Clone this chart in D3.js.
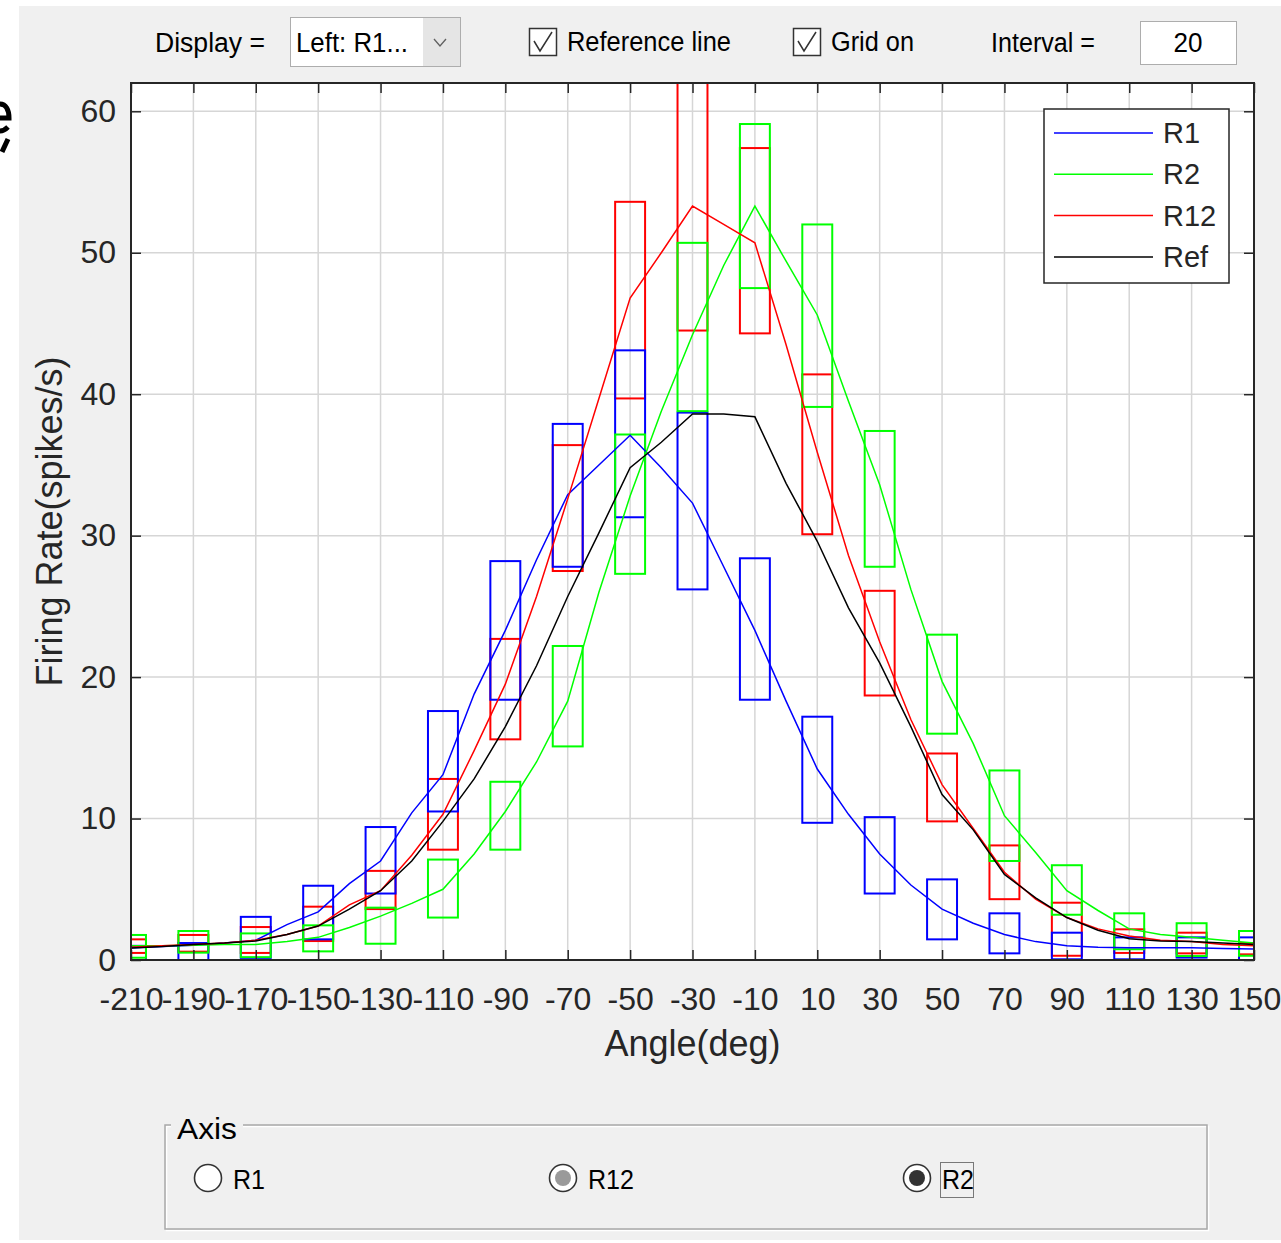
<!DOCTYPE html>
<html>
<head>
<meta charset="utf-8">
<script src="https://cdn.jsdelivr.net/npm/d3@7"></script>
<style>
    html, body { margin: 0; padding: 0; background: #fff; }
    svg text { font-family: "Liberation Sans", Arial, sans-serif; }
</style>
</head>
<body>
<div id="chart"></div>
<script>
// tick labels
var xTicks = [-210, -190, -170, -150, -130, -110, -90, -70, -50, -30, -10, 10, 30, 50, 70, 90, 110, 130, 150];
var yTicks = [0, 10, 20, 30, 40, 50, 60];

// box positions (deg) and box ranges per series (spikes/s)
var boxAngles = [-210, -190, -170, -150, -130, -110, -90, -70, -50, -30, -10, 10, 30, 50, 70, 90, 110, 130, 150];
var r1High  = [1.0, 1.2, 3.05, 5.25, 9.4, 17.6, 28.2, 37.9, 43.1, 38.7, 28.4, 17.2, 10.1, 5.7, 3.3, 1.93, 1.6, 1.6, 1.6];
var r1Low   = [0, 0, 0.15, 1.46, 4.7, 10.5, 18.4, 27.8, 31.3, 26.2, 18.4, 9.7, 4.7, 1.46, 0.47, 0.05, 0.05, 0.17, 0];
var r12High = [1.46, 1.77, 2.33, 3.77, 6.3, 12.8, 22.7, 36.4, 53.6, 64, 57.4, 41.4, 26.1, 14.6, 8.1, 4.05, 2.17, 1.93, 1.2];
var r12Low  = [0.5, 0.59, 0.5, 1.34, 3.6, 7.8, 15.6, 27.5, 39.7, 44.5, 44.3, 30.1, 18.7, 9.8, 4.3, 0.3, 0.5, 0.47, 0.4];
var r2High  = [1.77, 2.05, 1.88, 2.45, 3.7, 7.1, 12.6, 22.2, 37.15, 50.7, 59.1, 52.0, 37.4, 23.0, 13.4, 6.7, 3.3, 2.6, 2.05];
var r2Low   = [0.16, 0.52, 0.2, 0.61, 1.15, 3.0, 7.8, 15.1, 27.3, 38.8, 47.5, 39.1, 27.8, 16.0, 7.0, 3.2, 0.76, 0.28, 0.3];

// tuning curves
var lineAngles = [-210, -200, -190, -180, -170, -160, -150, -140, -130, -120, -110, -100, -90, -80, -70, -60, -50, -40, -30,
                  -20, -10, 0, 10, 20, 30, 40, 50, 60, 70, 80, 90, 100, 110, 120, 130, 140, 150];
var r1Curve  = [0.85, 0.95, 1.05, 1.2, 1.4, 2.5, 3.4, 5.4, 7.0, 10.4, 13.1, 18.8, 23.3, 28.3, 32.9, 35.0, 37.1, 34.8, 32.3,
                27.8, 23.3, 18.3, 13.5, 10.3, 7.5, 5.3, 3.6, 2.6, 1.8, 1.3, 1.0, 0.9, 0.87, 0.87, 0.87, 0.82, 0.78];
var r2Curve  = [1.0, 1.0, 1.05, 1.1, 1.1, 1.3, 1.6, 2.3, 3.1, 4.0, 5.0, 7.5, 10.5, 14.0, 18.3, 26.0, 32.8, 38.8, 44.2,
                49.1, 53.3, 49.4, 45.6, 39.5, 33.6, 26.2, 19.7, 15.3, 10.2, 7.6, 4.9, 3.5, 2.2, 1.8, 1.6, 1.4, 1.2];
var r12Curve = [0.9, 1.0, 1.1, 1.2, 1.4, 1.8, 2.4, 3.9, 4.9, 7.4, 10.3, 14.8, 19.5, 25.7, 32.6, 39.7, 46.8, 50.0, 53.3,
                52.0, 50.7, 43.5, 35.9, 28.6, 22.5, 17.0, 12.4, 9.3, 6.2, 4.3, 3.0, 2.2, 1.7, 1.4, 1.3, 1.1, 1.0];
var refCurve = [0.85, 0.95, 1.1, 1.2, 1.35, 1.8, 2.4, 3.6, 4.9, 7.0, 9.8, 12.8, 16.5, 20.8, 25.7, 30.2, 34.8, 36.6, 38.6,
                38.6, 38.4, 33.7, 29.6, 24.9, 21.0, 16.5, 11.7, 9.2, 6.05, 4.4, 3.0, 2.1, 1.5, 1.35, 1.3, 1.2, 1.1];

var legendNames = ['R1', 'R2', 'R12', 'Ref'];

function buildChart(containerId) {
    var width = 1281;
    var height = 1243;
    var plotLeft = 131, plotRight = 1254, plotTop = 83, plotBottom = 960;
    var axisColor = '#262626';
    var fontStack = '"Liberation Sans", Arial, sans-serif';
    var colors = { R1: '#0000ff', R2: '#00ff00', R12: '#ff0000', Ref: '#000000' };
    var boxHalf = 4.8; // deg

    var svg = d3.select(containerId)
        .append('svg')
        .attr('width', width)
        .attr('height', height);

    // window background
    svg.append('rect').attr('width', width).attr('height', height).attr('fill', '#fff');
    svg.append('rect').attr('x', 19).attr('y', 6).attr('width', width - 19).attr('height', 1234).attr('fill', '#f0f0f0');

    // stray fragment from the neighbouring window
    svg.append('path')
        .attr('d', 'M0,104 C6,104 9,110 9,118 L0,118 M0,131 C4,131 6,129 8,127 M8,139 L2,152')
        .attr('fill', 'none').attr('stroke', '#000').attr('stroke-width', 5);

    // top controls
    function uiText(x, y, str, len, anchor) {
        return svg.append('text')
            .attr('x', x).attr('y', y)
            .attr('font-size', 27)
            .attr('fill', '#000')
            .attr('text-anchor', anchor || 'start')
            .attr('textLength', len)
            .attr('lengthAdjust', 'spacingAndGlyphs')
            .text(str);
    }

    uiText(155, 52, 'Display =', 110);

    svg.append('rect').attr('x', 290.5).attr('y', 17.5).attr('width', 170).attr('height', 49)
        .attr('fill', '#fff').attr('stroke', '#adadad');
    svg.append('rect').attr('x', 423).attr('y', 18).attr('width', 37).attr('height', 48).attr('fill', '#e5e5e5');
    svg.append('polyline').attr('points', '434,39 440,46 446,39')
        .attr('fill', 'none').attr('stroke', '#606060').attr('stroke-width', 1.3);
    uiText(296, 52, 'Left: R1...', 112);

    function checkbox(x, label, len) {
        svg.append('rect').attr('x', x + 0.5).attr('y', 28.5).attr('width', 27).attr('height', 27)
            .attr('fill', '#fff').attr('stroke', '#333').attr('stroke-width', 1.5);
        svg.append('polyline')
            .attr('points', (x + 5) + ',41 ' + (x + 11) + ',51 ' + (x + 23) + ',32')
            .attr('fill', 'none').attr('stroke', '#333').attr('stroke-width', 1.5);
        uiText(x + 38, 51, label, len);
    }
    checkbox(529, 'Reference line', 164);
    checkbox(793, 'Grid on', 83);

    uiText(991, 52, 'Interval =', 104);
    svg.append('rect').attr('x', 1140.5).attr('y', 21.5).attr('width', 96).attr('height', 43)
        .attr('fill', '#fff').attr('stroke', '#adadad');
    uiText(1188, 52, '20', 29, 'middle');

    // scales
    var x = d3.scaleLinear().domain([-210, 150]).range([plotLeft, plotRight]);
    var y = d3.scaleLinear().domain([0, 62]).range([plotBottom, plotTop]);

    // plot background
    svg.append('rect')
        .attr('x', plotLeft).attr('y', plotTop)
        .attr('width', plotRight - plotLeft).attr('height', plotBottom - plotTop)
        .attr('fill', '#fff');

    // grid
    var grid = svg.append('g').attr('stroke', '#d6d6d6').attr('stroke-width', 1.5);
    grid.selectAll('.gx').data(xTicks).enter().append('line')
        .attr('x1', d => x(d)).attr('x2', d => x(d))
        .attr('y1', plotTop).attr('y2', plotBottom);
    grid.selectAll('.gy').data(yTicks).enter().append('line')
        .attr('x1', plotLeft).attr('x2', plotRight)
        .attr('y1', d => y(d)).attr('y2', d => y(d));

    svg.append('clipPath').attr('id', 'plot-clip')
        .append('rect')
        .attr('x', plotLeft).attr('y', plotTop)
        .attr('width', plotRight - plotLeft + 1).attr('height', plotBottom - plotTop);

    var plot = svg.append('g').attr('clip-path', 'url(#plot-clip)');

    // boxes: red first, then blue, then green on top
    var boxSets = [
        { name: 'R12', hi: r12High, lo: r12Low },
        { name: 'R1', hi: r1High, lo: r1Low },
        { name: 'R2', hi: r2High, lo: r2Low }
    ];
    boxSets.forEach(function (s) {
        plot.append('g')
            .selectAll('rect')
            .data(boxAngles)
            .enter()
            .append('rect')
            .attr('x', d => x(d - boxHalf))
            .attr('width', d => x(d + boxHalf) - x(d - boxHalf))
            .attr('y', (d, i) => y(s.hi[i]))
            .attr('height', (d, i) => y(s.lo[i]) - y(s.hi[i]))
            .attr('fill', 'none')
            .attr('stroke', colors[s.name])
            .attr('stroke-width', 2);
    });

    // curves
    var line = d3.line()
        .x((d, i) => x(lineAngles[i]))
        .y(d => y(d));
    var curves = [r1Curve, r2Curve, r12Curve, refCurve];
    curves.forEach(function (c, k) {
        plot.append('path')
            .datum(c)
            .attr('d', line)
            .attr('fill', 'none')
            .attr('stroke', colors[legendNames[k]])
            .attr('stroke-width', 1.5);
    });

    // axes
    function styleAxis(a) {
        a.attr('font-size', 32).attr('font-family', fontStack);
        a.select('.domain').remove();
        a.selectAll('.tick line').attr('stroke', axisColor).attr('stroke-width', 1.5);
        a.selectAll('.tick text').attr('fill', axisColor);
    }
    var plainNum = d => String(d);

    svg.append('g')
        .attr('transform', 'translate(0,' + plotBottom + ')')
        .call(d3.axisBottom(x).tickValues(xTicks).tickFormat(plainNum).tickSize(-10).tickPadding(27))
        .call(styleAxis);
    svg.append('g')
        .attr('transform', 'translate(0,' + plotTop + ')')
        .call(d3.axisTop(x).tickValues(xTicks).tickSize(-10).tickFormat(''))
        .call(styleAxis);
    svg.append('g')
        .attr('transform', 'translate(' + plotLeft + ',0)')
        .call(d3.axisLeft(y).tickValues(yTicks).tickFormat(plainNum).tickSize(-10).tickPadding(15))
        .call(styleAxis);
    svg.append('g')
        .attr('transform', 'translate(' + plotRight + ',0)')
        .call(d3.axisRight(y).tickValues(yTicks).tickSize(-10).tickFormat(''))
        .call(styleAxis);

    // frame
    svg.append('rect')
        .attr('x', plotLeft).attr('y', plotTop)
        .attr('width', plotRight - plotLeft).attr('height', plotBottom - plotTop)
        .attr('fill', 'none').attr('stroke', axisColor).attr('stroke-width', 2);

    // axis labels
    svg.append('text')
        .attr('x', (plotLeft + plotRight) / 2).attr('y', 1056)
        .attr('text-anchor', 'middle').attr('font-size', 36).attr('fill', axisColor)
        .text('Angle(deg)');
    svg.append('text')
        .attr('transform', 'translate(62,' + ((plotTop + plotBottom) / 2) + ') rotate(-90)')
        .attr('text-anchor', 'middle').attr('font-size', 36).attr('fill', axisColor)
        .text('Firing Rate(spikes/s)');

    // legend
    var legend = svg.append('g');
    legend.append('rect')
        .attr('x', 1044).attr('y', 109).attr('width', 185).attr('height', 174)
        .attr('fill', '#fff').attr('stroke', axisColor).attr('stroke-width', 1.5);
    var rows = legend.selectAll('.row').data(legendNames).enter().append('g')
        .attr('transform', (d, i) => 'translate(0,' + (133 + i * 41.3) + ')');
    rows.append('line')
        .attr('x1', 1054).attr('x2', 1153)
        .attr('stroke', d => colors[d]).attr('stroke-width', 1.5);
    rows.append('text')
        .attr('x', 1163).attr('y', 10)
        .attr('font-size', 29).attr('fill', axisColor)
        .text(d => d);

    // axis selector panel
    var panel = svg.append('g');
    panel.append('rect').attr('x', 166.5).attr('y', 1126.5).attr('width', 1042).attr('height', 104)
        .attr('fill', 'none').attr('stroke', '#fff').attr('stroke-width', 1.5);
    panel.append('rect').attr('x', 165).attr('y', 1125).attr('width', 1042).attr('height', 104)
        .attr('fill', 'none').attr('stroke', '#a8a8a8').attr('stroke-width', 1.5);
    panel.append('rect').attr('x', 171).attr('y', 1110).attr('width', 72).attr('height', 25).attr('fill', '#f0f0f0');
    panel.append('text').attr('x', 177).attr('y', 1139).attr('font-size', 29).attr('fill', '#000')
        .attr('textLength', 60).attr('lengthAdjust', 'spacingAndGlyphs').text('Axis');

    function radio(cx, label, len, dot) {
        panel.append('circle').attr('cx', cx).attr('cy', 1178).attr('r', 13.5)
            .attr('fill', '#fff').attr('stroke', '#333').attr('stroke-width', 1.6);
        if (dot) {
            panel.append('circle').attr('cx', cx).attr('cy', 1178).attr('r', 8).attr('fill', dot);
        }
        panel.append('text').attr('x', cx + 25).attr('y', 1189).attr('font-size', 27).attr('fill', '#000')
            .attr('textLength', len).attr('lengthAdjust', 'spacingAndGlyphs').text(label);
    }
    radio(208, 'R1', 32, null);
    radio(563, 'R12', 46, '#9a9a9a');
    radio(917, 'R2', 32, '#333');
    panel.append('rect').attr('x', 940.5).attr('y', 1162.5).attr('width', 33).attr('height', 35)
        .attr('fill', 'none').attr('stroke', '#000').attr('stroke-width', 1).attr('stroke-dasharray', '1,1');
}

buildChart('#chart');
</script>
</body>
</html>
